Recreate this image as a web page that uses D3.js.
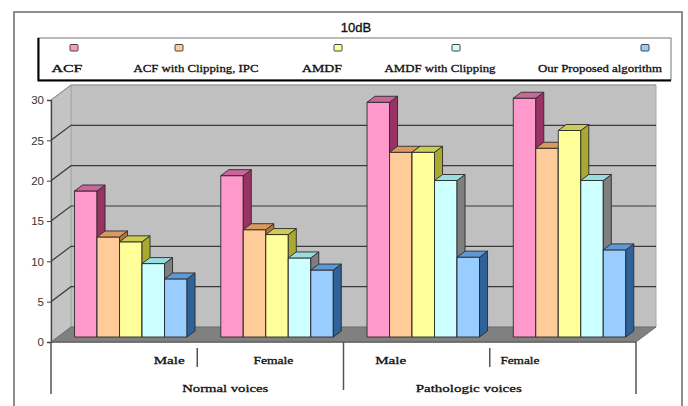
<!DOCTYPE html>
<html>
<head>
<meta charset="utf-8">
<script src="https://cdn.jsdelivr.net/npm/d3@7"></script>
<style>
  html, body { margin: 0; padding: 0; background: #fff; }
  svg { display: block; }
</style>
</head>
<body>
<svg id="chart" width="688" height="406"></svg>
<script>
// ---- data ----
const title = "10dB";
const categories = ["Male", "Female", "Male", "Female"];
const groups = ["Normal voices", "Pathologic voices"];
const seriesNames = ["ACF", "ACF with Clipping, IPC", "AMDF", "AMDF with Clipping", "Our Proposed algorithm"];
const acf = [18.1, 20.0, 29.1, 29.6];
const acfClipIpc = [12.4, 13.3, 22.9, 23.4];
const amdf = [11.8, 12.7, 22.9, 25.6];
const amdfClip = [9.1, 9.8, 19.4, 19.4];
const proposed = [7.2, 8.3, 9.9, 10.8];
const yTicks = [0, 5, 10, 15, 20, 25, 30];

const seriesValues = [acf, acfClipIpc, amdf, amdfClip, proposed];

// face colours per series: front, top, side
const palette = [
  { front: "#ff99cc", top: "#cc6699", side: "#993366" },
  { front: "#ffcc99", top: "#d99a5e", side: "#b8733a" },
  { front: "#ffff99", top: "#cccc55", side: "#a9a931" },
  { front: "#ccffff", top: "#99dede", side: "#7f7f7f" },
  { front: "#99ccff", top: "#5f98d6", side: "#2f6299" }
];

const svg = d3.select("#chart");
const serif = "'Liberation Serif', 'DejaVu Serif', serif";
const sans = "Arial, 'Liberation Sans', sans-serif";

// ---- layout ----
const X0 = 51, X1 = 636;      // front edge of the floor
const DX = 20, DY = 15;       // full depth offset of the 3D box
const barD0 = 1 / 3, barD1 = 0.733; // depth span occupied by the columns

const y = d3.scaleLinear().domain([0, 30]).range([342, 100]);
const x = d3.scaleBand().domain(d3.range(categories.length)).range([X0, X1])
  .paddingInner(0.2308).paddingOuter(0.1154);
const xs = d3.scaleBand().domain(d3.range(seriesNames.length)).range([0, x.bandwidth()]);

// projection of (x on front plane, value, depth fraction) to screen
const P = (px, v, d) => [px + DX * d, y(v) - DY * d];
const poly = pts => "M" + pts.map(p => p.join(",")).join("L") + "Z";

// dark, slightly heavy serif label
function label(sel, txt, cx, cy, w) {
  return sel.append("text").attr("x", cx).attr("y", cy).attr("text-anchor", "middle")
    .attr("font-family", serif).attr("font-size", 10.5)
    .attr("textLength", w).attr("lengthAdjust", "spacingAndGlyphs")
    .attr("fill", "#111").attr("stroke", "#111").attr("stroke-width", 0.3)
    .text(txt);
}

// outer chart frame
svg.append("rect").attr("x", 14).attr("y", 12).attr("width", 668).attr("height", 404)
  .attr("fill", "#fff").attr("stroke", "#6a6a6a").attr("stroke-width", 1.5);

// title
svg.append("text").attr("x", 356).attr("y", 32).attr("text-anchor", "middle")
  .attr("font-family", sans).attr("font-size", 13)
  .attr("fill", "#111").attr("stroke", "#111").attr("stroke-width", 0.35).text(title);

// ---- legend ----
const leg = svg.append("g");
leg.append("rect").attr("x", 38).attr("y", 38).attr("width", 633).attr("height", 42)
  .attr("fill", "#fff").attr("stroke", "#777").attr("stroke-width", 1);
leg.append("path").attr("d", "M38.5,38 L38.5,80.5 L671,80.5")
  .attr("fill", "none").attr("stroke", "#000").attr("stroke-width", 2);
const legMarkX = [74, 179, 338, 456, 645];
const legTextX = [67, 196, 322, 440, 600];
const legTextW = [31, 125, 40, 111, 124];
seriesNames.forEach((name, i) => {
  leg.append("rect").attr("x", legMarkX[i] - 4).attr("y", 44.5).attr("width", 8).attr("height", 6.5)
    .attr("rx", 1).attr("fill", palette[i].front).attr("stroke", "#444").attr("stroke-width", 1);
  label(leg, name, legTextX[i], 71.5, legTextW[i]);
});

// ---- 3D walls and floor ----
const plot = svg.append("g");
// back wall
plot.append("path").attr("d", poly([P(X0, 0, 1), P(X1, 0, 1), P(X1, 30, 1), P(X0, 30, 1)]))
  .attr("fill", "#c0c0c0").attr("stroke", "#a8a8a8").attr("stroke-width", 1);
// left side wall
plot.append("path").attr("d", poly([P(X0, 0, 0), P(X0, 0, 1), P(X0, 30, 1), P(X0, 30, 0)]))
  .attr("fill", "#c4c4c4").attr("stroke", "#a8a8a8").attr("stroke-width", 1);
// floor
plot.append("path").attr("d", poly([P(X0, 0, 0), P(X1, 0, 0), P(X1, 0, 1), P(X0, 0, 1)]))
  .attr("fill", "#808080").attr("stroke", "#6e6e6e").attr("stroke-width", 1);

// gridlines on back and side walls
yTicks.filter(t => t > 0).forEach(t => {
  const a = P(X0, t, 0), b = P(X0, t, 1), c = P(X1, t, 1);
  plot.append("path").attr("d", `M${a}L${b}L${c}`)
    .attr("fill", "none").attr("stroke", t === 30 ? "#9a9a9a" : "#3a3a3a").attr("stroke-width", 1.2);
});

// value axis on the front-left edge
const yAxis = svg.append("g").attr("transform", `translate(${X0},0)`)
  .call(d3.axisLeft(y).tickValues(yTicks).tickSize(4).tickPadding(3));
yAxis.select(".domain").attr("stroke", "#444").attr("stroke-width", 1.3);
yAxis.selectAll(".tick line").attr("stroke", "#444");
yAxis.selectAll(".tick text").attr("font-family", sans)
  .attr("font-size", 11.5).attr("fill", "#333");

// ---- columns ----
const bars = svg.append("g").attr("stroke", "#2a2a2a").attr("stroke-width", 0.9)
  .attr("stroke-linejoin", "round");
categories.forEach((c, ci) => {
  seriesValues.forEach((vals, si) => {
    const v = vals[ci];
    const xl = x(ci) + xs(si), xr = xl + xs.bandwidth();
    const col = palette[si];
    // front face
    bars.append("path").attr("d", poly([P(xl, 0, barD0), P(xr, 0, barD0), P(xr, v, barD0), P(xl, v, barD0)]))
      .attr("fill", col.front);
    // right side face
    bars.append("path").attr("d", poly([P(xr, 0, barD0), P(xr, 0, barD1), P(xr, v, barD1), P(xr, v, barD0)]))
      .attr("fill", col.side);
    // top face
    bars.append("path").attr("d", poly([P(xl, v, barD0), P(xr, v, barD0), P(xr, v, barD1), P(xl, v, barD1)]))
      .attr("fill", col.top);
  });
});

// ---- category axis (two levels) ----
const cat = svg.append("g").attr("stroke", "#555").attr("stroke-width", 1.5);
const yF = y(0);
cat.append("line").attr("x1", X0).attr("x2", X1).attr("y1", yF).attr("y2", yF).attr("stroke", "#666");
cat.append("line").attr("x1", X0).attr("x2", X0).attr("y1", yF).attr("y2", 394);
cat.append("line").attr("x1", X1).attr("x2", X1).attr("y1", yF).attr("y2", 394);
const midX = x(2) - x.step() * x.paddingInner() / 2;
cat.append("line").attr("x1", midX).attr("x2", midX).attr("y1", yF).attr("y2", 390);
[1, 3].forEach(i => {
  const sx = x(i) - x.step() * x.paddingInner() / 2;
  cat.append("line").attr("x1", sx).attr("x2", sx).attr("y1", 348).attr("y2", 367);
});

const catLabelDx = [45, 3, -26, -43];
const catLabelW = [31, 40, 31, 39];
categories.forEach((c, i) => {
  label(svg, c, x(i) + x.bandwidth() / 2 + catLabelDx[i], 364, catLabelW[i]);
});
const groupCenters = [(X0 + midX) / 2 + 28, (midX + X1) / 2 - 21];
const groupW = [86, 106];
groups.forEach((g, i) => {
  label(svg, g, groupCenters[i], 392, groupW[i]);
});
</script>
</body>
</html>
